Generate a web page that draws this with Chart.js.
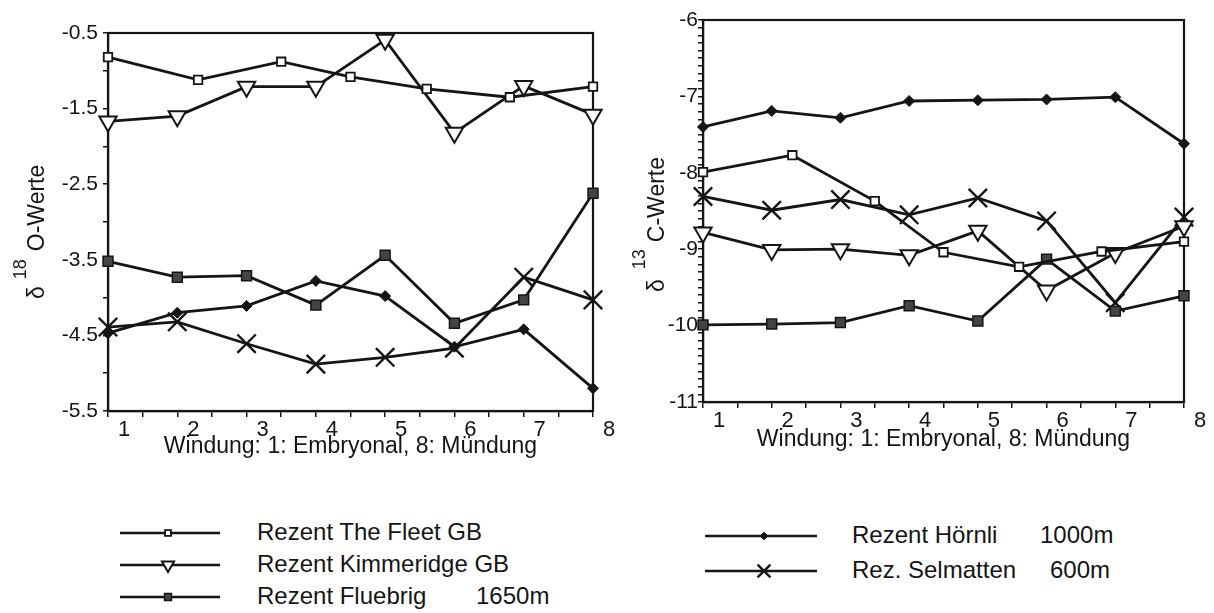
<!DOCTYPE html>
<html>
<head>
<meta charset="utf-8">
<script src="https://cdn.jsdelivr.net/npm/chart.js@4.4.1/dist/chart.umd.min.js"></script>
<style>
  body { margin: 0; width: 1214px; height: 613px; overflow: hidden; position: relative; background: #fff;
         font-family: "Liberation Sans", Arial, sans-serif; color: #151515; }
  canvas { position: absolute; top: 0; }
  #leftChart { left: 0; }
  #rightChart { left: 600px; }
  .legText { position: absolute; font-size: 24px; line-height: 28px; white-space: pre; }
</style>
</head>
<body>
<canvas id="leftChart" width="640" height="470"></canvas>
<canvas id="rightChart" width="614" height="470"></canvas>
<div id="legend"></div>

<script>
// whorl positions (x); The Fleet was sampled at other positions
const whorls = [1, 2, 3, 4, 5, 6, 7, 8];
const fleetWhorls = [1, 2.3, 3.5, 4.5, 5.6, 6.8, 8];

// delta 18O
const o18Fleet = [-0.82, -1.12, -0.88, -1.08, -1.24, -1.35, -1.21];
const o18Kimmeridge = [-1.67, -1.60, -1.21, -1.21, -0.59, -1.82, -1.20, -1.58];
const o18Fluebrig = [-3.52, -3.73, -3.71, -4.10, -3.44, -4.34, -4.03, -2.62];
const o18Hoernli = [-4.47, -4.20, -4.11, -3.78, -3.98, -4.65, -4.42, -5.20];
const o18Selmatten = [-4.39, -4.32, -4.61, -4.88, -4.79, -4.67, -3.73, -4.03];

// delta 13C
const c13Fleet = [-7.99, -7.77, -8.37, -9.04, -9.23, -9.03, -8.90];
const c13Kimmeridge = [-8.78, -9.01, -9.00, -9.08, -8.76, -9.54, -9.05, -8.70];
const c13Fluebrig = [-9.99, -9.98, -9.96, -9.74, -9.94, -9.13, -9.81, -9.61];
const c13Hoernli = [-7.40, -7.19, -7.28, -7.06, -7.05, -7.04, -7.01, -7.62];
const c13Selmatten = [-8.31, -8.49, -8.35, -8.55, -8.33, -8.63, -9.70, -8.58];

const seriesNames = ['Rezent The Fleet GB', 'Rezent Kimmeridge GB', 'Rezent Fluebrig', 'Rezent Hörnli', 'Rez. Selmatten'];
const seriesAltitudes = ['', '', '1650m', '1000m', '600m'];

const xTitle = 'Windung: 1: Embryonal, 8: Mündung';
const o18Title = ['δ', '18', 'O-Werte'];
const c13Title = ['δ', '13', 'C-Werte'];

const INK = '#151515';
const FONT = '"Liberation Sans", Arial, sans-serif';

const markers = [
  { pointStyle: 'rect', pointRadius: 6, pointBackgroundColor: '#fff', pointBorderWidth: 1.8 },
  { pointStyle: 'triangle', pointRadius: 10, pointRotation: 180, pointBackgroundColor: '#fff', pointBorderWidth: 2 },
  { pointStyle: 'rect', pointRadius: 7, pointBackgroundColor: '#444', pointBorderWidth: 1.5 },
  { pointStyle: 'rectRot', pointRadius: 5.5, pointBackgroundColor: INK, pointBorderWidth: 1 },
  { pointStyle: 'crossRot', pointRadius: 13, pointBackgroundColor: INK, pointBorderWidth: 2.4 }
];

function toPoints(xs, ys) {
  return ys.map((y, i) => ({ x: xs[i], y: y }));
}

function makeDatasets(series) {
  return series.map(([xs, ys], i) => Object.assign({
    label: seriesNames[i],
    data: toPoints(xs, ys),
    borderColor: INK,
    borderWidth: 2.8,
    pointBorderColor: INK,
    pointHoverRadius: markers[i].pointRadius,
    clip: false
  }, markers[i]));
}

// box around the plot area
const frame = {
  id: 'frame',
  beforeDatasetsDraw(chart) {
    const { ctx, chartArea: a } = chart;
    ctx.save();
    ctx.strokeStyle = INK;
    ctx.lineWidth = 2.2;
    ctx.strokeRect(a.left, a.top, a.right - a.left, a.bottom - a.top);
    ctx.restore();
  }
};

// rotated y title with superscript isotope mass
const isoTitle = {
  id: 'isoTitle',
  afterDraw(chart, args, opts) {
    const { ctx } = chart;
    const [sym, mass, rest] = opts.parts;
    ctx.save();
    ctx.translate(opts.x, opts.bottom);
    ctx.rotate(-Math.PI / 2);
    ctx.fillStyle = INK;
    ctx.textBaseline = 'alphabetic';
    ctx.font = '23px ' + FONT;
    ctx.fillText(sym, 0, 0);
    let pos = ctx.measureText(sym).width + opts.gap1;
    ctx.font = '18px ' + FONT;
    ctx.fillText(mass, pos, -opts.raise);
    pos += ctx.measureText(mass).width + opts.gap2;
    ctx.font = '23px ' + FONT;
    ctx.fillText(rest, pos, 0);
    ctx.restore();
  }
};

function makeScales(cfg) {
  return {
    x: {
      type: 'linear', min: 1, max: 8,
      afterFit: s => { s.height = cfg.xHeight; },
      border: { color: INK, width: 2.2 },
      grid: { drawOnChartArea: false, tickLength: 6, color: INK, lineWidth: 1.5 },
      ticks: {
        stepSize: 0.5, autoSkip: false, maxRotation: 0, padding: cfg.xPad, labelOffset: 16,
        color: INK, font: { family: FONT, size: 22 },
        callback: v => Number.isInteger(v) ? String(v) : ''
      },
      title: { display: true, text: xTitle, color: INK, font: { family: FONT, size: 23 },
               padding: { top: 0, bottom: cfg.titlePad } }
    },
    y: {
      type: 'linear', min: cfg.yMin, max: cfg.yMax,
      afterFit: s => { s.width = cfg.yWidth; },
      border: { color: INK, width: 2.2 },
      grid: { drawOnChartArea: false, tickLength: 5, color: INK, lineWidth: 1.5 },
      ticks: {
        stepSize: cfg.yStep, autoSkip: false, padding: cfg.yPad,
        color: INK, font: { family: FONT, size: 21 },
        callback: cfg.yLabel
      }
    }
  };
}

function makeChart(id, series, cfg) {
  return new Chart(document.getElementById(id), {
    type: 'line',
    data: { datasets: makeDatasets(series) },
    options: {
      responsive: false,
      animation: false,
      events: [],
      layout: { padding: { top: cfg.top, right: cfg.right, left: 0, bottom: 0 } },
      scales: makeScales(cfg),
      plugins: {
        legend: { display: false },
        tooltip: { enabled: false },
        isoTitle: cfg.title
      }
    },
    plugins: [frame, isoTitle]
  });
}

const leftChart = makeChart('leftChart', [
  [fleetWhorls, o18Fleet], [whorls, o18Kimmeridge], [whorls, o18Fluebrig],
  [whorls, o18Hoernli], [whorls, o18Selmatten]
], {
  top: 33, right: 47, yWidth: 108, xHeight: 59, xPad: 0, titlePad: 10,
  yMin: -5.5, yMax: -0.5, yStep: 0.5, yPad: 5,
  yLabel: v => (Math.abs(Math.round(v * 2)) % 2 === 1) ? v.toFixed(1) : '',
  title: { parts: o18Title, x: 44, bottom: 299, gap1: 7, gap2: 8, raise: 18 }
});

const rightChart = makeChart('rightChart', [
  [fleetWhorls, c13Fleet], [whorls, c13Kimmeridge], [whorls, c13Fluebrig],
  [whorls, c13Hoernli], [whorls, c13Selmatten]
], {
  top: 20, right: 30, yWidth: 103, xHeight: 68, xPad: 0, titlePad: 17,
  yMin: -11, yMax: -6, yStep: 0.1, yPad: 0,
  yLabel: v => Math.abs(v - Math.round(v)) < 1e-6 ? String(Math.round(v)) : '',
  title: { parts: c13Title, x: 64, bottom: 292, gap1: 10, gap2: 7, raise: 19 }
});

// legend below the two panels
const legendSlots = [
  { lineX: 120, lineW: 100, markX: 48, y: 533, textX: 257, altX: 476 },
  { lineX: 120, lineW: 100, markX: 48, y: 565, textX: 257, altX: 476 },
  { lineX: 120, lineW: 100, markX: 48, y: 597, textX: 257, altX: 476 },
  { lineX: 705, lineW: 112, markX: 59, y: 536, textX: 852, altX: 1040 },
  { lineX: 705, lineW: 112, markX: 59, y: 571, textX: 852, altX: 1050 }
];

const legendBox = document.getElementById('legend');
leftChart.data.datasets.forEach((ds, i) => {
  const slot = legendSlots[i];
  const c = document.createElement('canvas');
  c.width = slot.lineW; c.height = 30;
  c.style.left = slot.lineX + 'px';
  c.style.top = (slot.y - 15) + 'px';
  legendBox.appendChild(c);
  const ctx = c.getContext('2d');
  ctx.strokeStyle = INK;
  ctx.lineWidth = 2.4;
  ctx.beginPath(); ctx.moveTo(0, 15); ctx.lineTo(slot.lineW, 15); ctx.stroke();
  if (Chart.helpers && Chart.helpers.drawPoint) {
    ctx.fillStyle = ds.pointBackgroundColor;
    ctx.lineWidth = ds.pointBorderWidth;
    Chart.helpers.drawPoint(ctx, {
      pointStyle: ds.pointStyle, radius: ds.pointRadius * 0.7,
      rotation: ds.pointRotation || 0, borderWidth: ds.pointBorderWidth
    }, slot.markX, 15);
  }
  const t = document.createElement('div');
  t.className = 'legText';
  t.textContent = ds.label;
  t.style.left = slot.textX + 'px';
  t.style.top = (slot.y - 15) + 'px';
  legendBox.appendChild(t);
  if (seriesAltitudes[i]) {
    const a = document.createElement('div');
    a.className = 'legText';
    a.textContent = seriesAltitudes[i];
    a.style.left = slot.altX + 'px';
    a.style.top = (slot.y - 15) + 'px';
    legendBox.appendChild(a);
  }
});
</script>
</body>
</html>
